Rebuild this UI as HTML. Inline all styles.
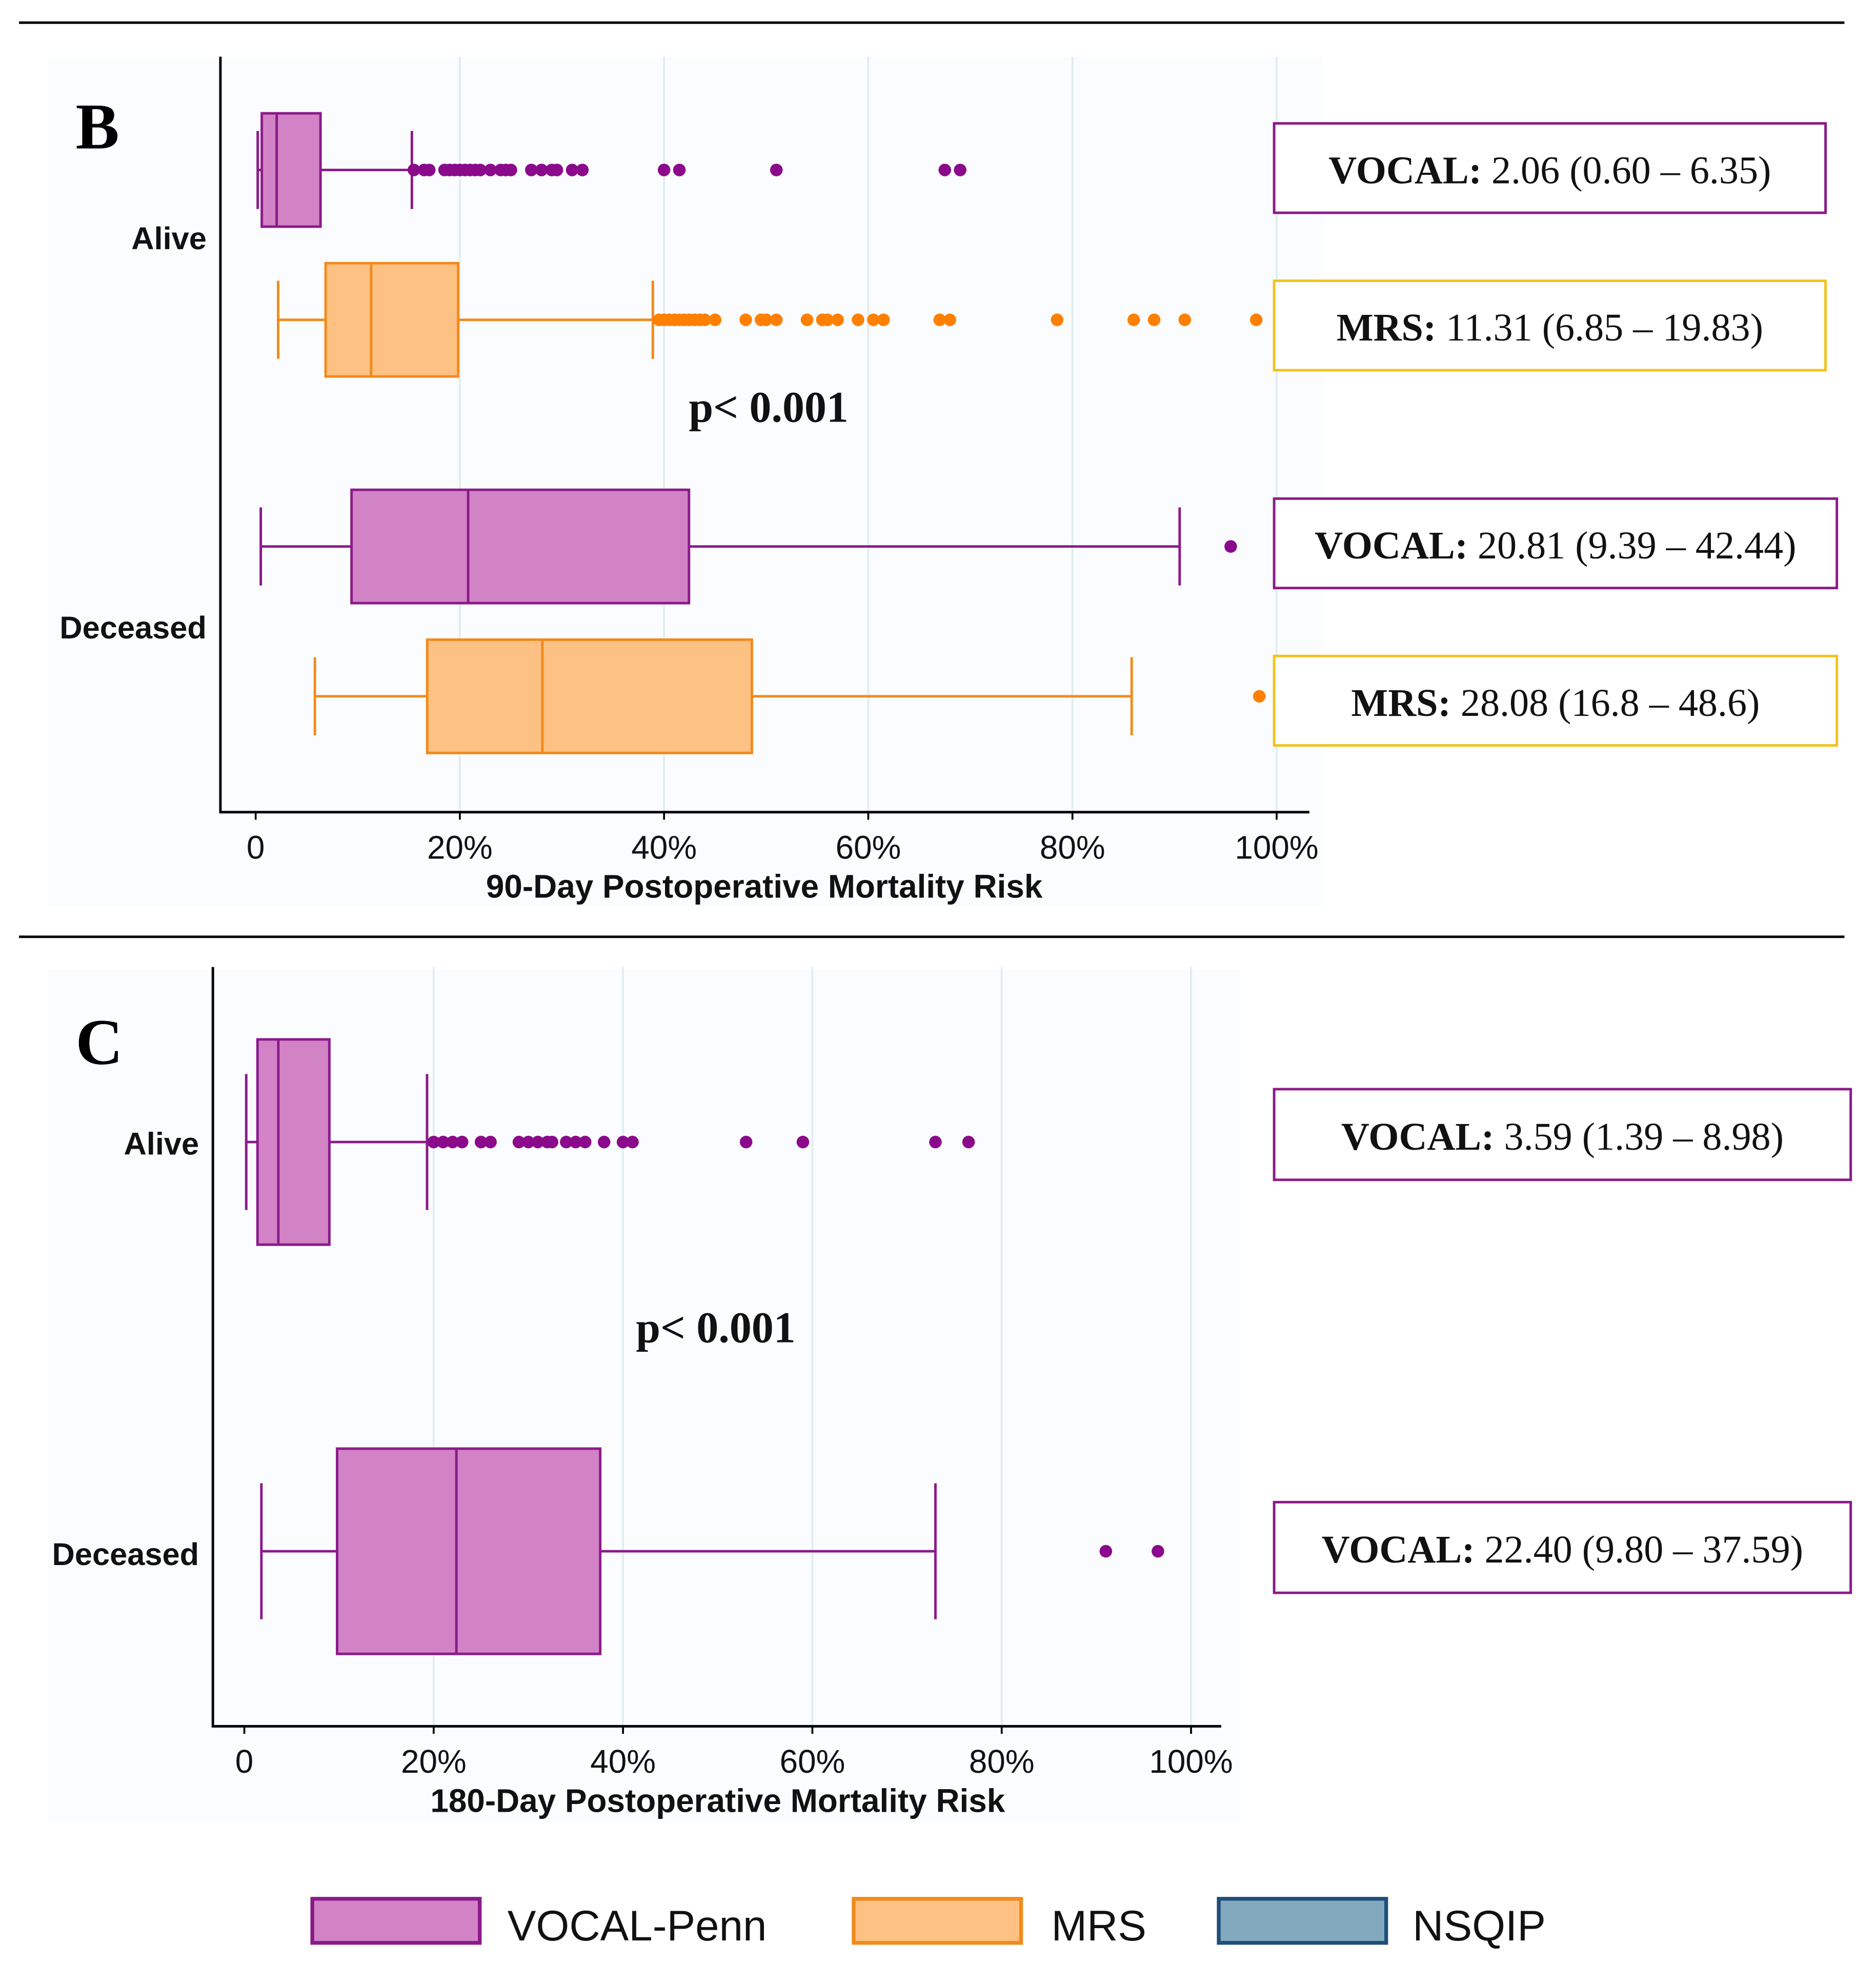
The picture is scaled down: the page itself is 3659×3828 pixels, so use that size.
<!DOCTYPE html>
<html><head><meta charset="utf-8"><style>
html,body{margin:0;padding:0;background:#fff}
svg{display:block}
.sans{font-family:"Liberation Sans",Arial,sans-serif}
.serif{font-family:"Liberation Serif","Times New Roman",serif}
</style></head><body>
<svg id="chart" width="3659" height="3828" viewBox="0 0 1490 1559" xmlns="http://www.w3.org/2000/svg">
<rect x="0" y="0" width="1490" height="1559" fill="#fff"/>
<line x1="15" y1="18" x2="1465" y2="18" stroke="#000" stroke-width="2"/>
<line x1="15" y1="744" x2="1465" y2="744" stroke="#000" stroke-width="2"/>
<g id="panelB"></g>
<g id="panelC"></g>
<g>
 <g><rect x="248" y="1508" width="133" height="35" fill="#d183c6" stroke="#8b1a89" stroke-width="3"/><text class="sans" x="403" y="1541" font-size="34" fill="#111">VOCAL-Penn</text></g>
 <g><rect x="678" y="1508" width="133" height="35" fill="#fcc183" stroke="#f28a1c" stroke-width="3"/><text class="sans" x="835" y="1541" font-size="34" fill="#111">MRS</text></g>
 <g><rect x="968" y="1508" width="133" height="35" fill="#83a9be" stroke="#1f4e79" stroke-width="3"/><text class="sans" x="1122" y="1541" font-size="34" fill="#111">NSQIP</text></g>
</g>
</svg>
<script>
// ---- Panel B data (90-day) ----
const bGroups = ["Alive VOCAL","Alive MRS","Deceased VOCAL","Deceased MRS"];
const bModels = ["vocal","mrs","vocal","mrs"];
const bWhiskLo = [0.2, 2.2, 0.5, 5.8];
const bQ1 = [0.60, 6.85, 9.39, 16.8];
const bMedian = [2.06, 11.31, 20.81, 28.08];
const bQ3 = [6.35, 19.83, 42.44, 48.6];
const bWhiskHi = [15.3, 38.9, 90.5, 85.8];
const bOutliers = [
 [15.5,16.5,17,18.5,19,19.5,20,20.5,21,21.5,22,23,24,24.5,25,27,28,29,29.5,31,32,40,41.5,51,67.5,69],
 [39.5,40,40.5,41,41.5,42,42.5,43,43.5,44,45,48,49.5,50,51,54,55.5,56,57,59,60.5,61.5,67,68,78.5,86,88,91,98],
 [95.5],
 [98.3]
];
const bLabels = ["VOCAL:|2.06 (0.60 – 6.35)","MRS:|11.31 (6.85 – 19.83)","VOCAL:|20.81 (9.39 – 42.44)","MRS:|28.08 (16.8 – 48.6)"];
// ---- Panel C data (180-day) ----
const cGroups = ["Alive VOCAL","Deceased VOCAL"];
const cWhiskLo = [0.2, 1.8];
const cQ1 = [1.39, 9.80];
const cMedian = [3.59, 22.40];
const cQ3 = [8.98, 37.59];
const cWhiskHi = [19.3, 73.0];
const cOutliers = [
 [20,21,22,23,25,26,29,30,31,32,32.5,34,35,36,38,40,41,53,59,73,76.5],
 [91,96.5]
];
const cLabels = ["VOCAL:|3.59 (1.39 – 8.98)","VOCAL:|22.40 (9.80 – 37.59)"];
const tickVals = [0,20,40,60,80,100];
const tickLabels = ["0","20%","40%","60%","80%","100%"];

const NS="http://www.w3.org/2000/svg";
function mk(tag,attrs,parent){const e=document.createElementNS(NS,tag);for(const k in attrs)e.setAttribute(k,attrs[k]);parent.appendChild(e);return e;}
const COL={vocal:{s:"#8b1a89",f:"#d183c6",o:"#8b0a8b",b:"#8b1a89"},mrs:{s:"#f28a1c",f:"#fcc183",o:"#ff8000",b:"#f3c21a"}};

function drawPanel(g,cfg){
 const x=v=>cfg.x0+v*(cfg.x100-cfg.x0)/100;
 mk("rect",{x:cfg.bg[0],y:cfg.bg[1],width:cfg.bg[2],height:cfg.bg[3],fill:"#fafcfd"},g);
 tickVals.forEach((t,i)=>{
  if(t>0){const gl=mk("line",{x1:x(t),y1:cfg.yTop,x2:x(t),y2:cfg.yAxis,stroke:"#e0edf0","stroke-width":1.5},g);
  
  }
  const tk=mk("line",{x1:x(t),y1:cfg.yAxis,x2:x(t),y2:cfg.yAxis+6,stroke:"#000","stroke-width":1.5},g);
  
  
  const tl=mk("text",{x:x(t),y:cfg.yAxis+37,"font-size":26,"text-anchor":"middle",class:"sans",fill:"#111"},g);
  tl.textContent=tickLabels[i];
  
  
 });
 const ax=mk("path",{d:`M${cfg.xAxis},${cfg.yTop} V${cfg.yAxis} H${cfg.xEnd}`,fill:"none",stroke:"#000","stroke-width":2},g);
 
 
 const title=mk("text",{x:cfg.titleX,y:cfg.yAxis+68,"font-size":26,"font-weight":"bold","text-anchor":"middle",class:"sans",fill:"#111"},g);
 title.textContent=cfg.title;
 
 
 const letter=mk("text",{x:cfg.letter[1],y:cfg.letter[2],"font-size":52,"font-weight":"bold",class:"serif",fill:"#000"},g);
 letter.textContent=cfg.letter[0];
 
 
 cfg.cats.forEach((c,i)=>{
  const t=mk("text",{x:cfg.catX,y:c[1],"font-size":25,"font-weight":"bold","text-anchor":"end",class:"sans",fill:"#111"},g);
  t.textContent=c[0];
  
  
 });
 const p=mk("text",{x:cfg.p[0],y:cfg.p[1],"font-size":35,"font-weight":"bold",class:"serif",fill:"#111"},g);
 p.textContent="p< 0.001";
 
 
 cfg.lo.forEach((_,i)=>{
  const c=COL[cfg.models[i]], cy=cfg.cy[i], h=cfg.bh, ch=cfg.ch;
  const bg=mk("g",{},g);
  
  
  mk("line",{x1:x(cfg.lo[i]),y1:cy,x2:x(cfg.q1[i]),y2:cy,stroke:c.s,"stroke-width":2},bg);
  mk("line",{x1:x(cfg.q3[i]),y1:cy,x2:x(cfg.hi[i]),y2:cy,stroke:c.s,"stroke-width":2},bg);
  mk("line",{x1:x(cfg.lo[i]),y1:cy-ch/2,x2:x(cfg.lo[i]),y2:cy+ch/2,stroke:c.s,"stroke-width":2},bg);
  mk("line",{x1:x(cfg.hi[i]),y1:cy-ch/2,x2:x(cfg.hi[i]),y2:cy+ch/2,stroke:c.s,"stroke-width":2},bg);
  mk("rect",{x:x(cfg.q1[i]),y:cy-h/2,width:x(cfg.q3[i])-x(cfg.q1[i]),height:h,fill:c.f,stroke:c.s,"stroke-width":2},bg);
  mk("line",{x1:x(cfg.med[i]),y1:cy-h/2,x2:x(cfg.med[i]),y2:cy+h/2,stroke:c.s,"stroke-width":2},bg);
  cfg.out[i].forEach(v=>{
   const d=mk("circle",{cx:x(v),cy:cy,r:5,fill:c.o},g);
   
   
  });
  const L=cfg.lab[i], parts=cfg.labels[i].split("|");
  const lb=mk("g",{},g);
  
  
  mk("rect",{x:L[0],y:L[1],width:L[2],height:L[3],fill:"#fff",stroke:c.b,"stroke-width":2},lb);
  const t=mk("text",{x:L[0]+L[2]/2,y:L[1]+L[3]/2+12,"font-size":31,"text-anchor":"middle",class:"serif",fill:"#111"},lb);
  const b=mk("tspan",{"font-weight":"bold"},t); b.textContent=parts[0];
  const r=mk("tspan",{},t); r.textContent=" "+parts[1];
 });
}
drawPanel(document.getElementById("panelB"),{
 x0:203,x100:1014,xAxis:175,xEnd:1040,yTop:45,yAxis:645,bg:[38,45,1012,675],title:"90-Day Postoperative Mortality Risk",titleX:607,
 letter:["B",60,118],cats:[["Alive",198],["Deceased",507]],catX:164,p:[547,335],
 names:bGroups,models:bModels,lo:bWhiskLo,q1:bQ1,med:bMedian,q3:bQ3,hi:bWhiskHi,out:bOutliers,labels:bLabels,
 cy:[135,254,434,553],bh:90,ch:62,
 lab:[[1012,98,438,71],[1012,223,438,71],[1012,396,447,71],[1012,521,447,71]]
});
drawPanel(document.getElementById("panelC"),{
 x0:194,x100:946,xAxis:169,xEnd:970,yTop:768,yAxis:1371,bg:[38,770,947,678],title:"180-Day Postoperative Mortality Risk",titleX:570,
 letter:["C",60,845],cats:[["Alive",917],["Deceased",1243]],catX:158,p:[505,1066],
 names:cGroups,models:["vocal","vocal"],lo:cWhiskLo,q1:cQ1,med:cMedian,q3:cQ3,hi:cWhiskHi,out:cOutliers,labels:cLabels,
 cy:[907,1232],bh:163,ch:108,
 lab:[[1012,865,458,72],[1012,1193,458,72]]
});
</script>
</body></html>
